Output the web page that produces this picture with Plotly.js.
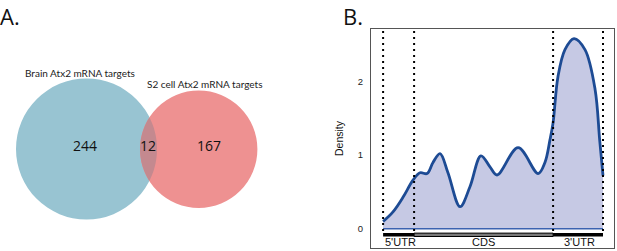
<!DOCTYPE html>
<html><head><meta charset="utf-8">
<script src="https://cdn.plot.ly/plotly-3.0.1.min.js"></script>
<style>html,body{margin:0;padding:0;background:#fff;}#chart{width:617px;height:251px;}</style>
</head><body><div id="chart"></div>
<script>
// Panel A: Venn data
const vennSetLabels = ["Brain Atx2 mRNA targets", "S2 cell Atx2 mRNA targets"];
const vennCounts = [244, 12, 167]; // brain only, both, S2 only

// Panel B: density along transcript (0 = 5' end, 1 = 3' end)
const position = [0, 0.045, 0.091, 0.136, 0.168, 0.2, 0.227, 0.259, 0.295, 0.35, 0.395, 0.445, 0.486, 0.518, 0.614, 0.705, 0.736, 0.759, 0.773, 0.795, 0.827, 0.868, 0.918, 0.964, 0.985, 1.0];
const density  = [0.1, 0.23, 0.43, 0.66, 0.76, 0.75, 0.9, 1.02, 0.76, 0.3, 0.57, 0.99, 0.84, 0.73, 1.10, 0.75, 0.9, 1.21, 1.44, 2.06, 2.43, 2.58, 2.43, 1.89, 1.2, 0.72];
const regionNames = ["5'UTR", "CDS", "3'UTR"];
const regionBounds = [0, 0.141, 0.773, 1.0];
const yTicks = [0, 1, 2];

// Venn geometry (in pixel-like units of a hidden axis)
const c1 = {x: 86.5, y: 149, r: 70.5};
const c2 = {x: 198.7, y: 149.2, r: 58.7};
const blue = "#98c4d2", red = "#ee9191", lens = "#c4898f";

function lensPath(a, b) {
  const d = b.x - a.x;
  const ax = (d*d + a.r*a.r - b.r*b.r) / (2*d);
  const h = Math.sqrt(a.r*a.r - ax*ax);
  const ix = a.x + ax, yTop = a.y - h, yBot = a.y + h;
  const pts = [];
  const t1 = Math.atan2(yTop - a.y, ix - a.x), t2 = Math.atan2(yBot - a.y, ix - a.x);
  for (let i = 0; i <= 40; i++) { const t = t1 + (t2 - t1) * i / 40; pts.push([a.x + a.r*Math.cos(t), a.y + a.r*Math.sin(t)]); }
  const s1 = Math.atan2(yBot - b.y, ix - b.x), s2 = Math.atan2(yTop - b.y, ix - b.x);
  let u1 = s1 < 0 ? s1 + 2*Math.PI : s1, u2 = s2 < 0 ? s2 + 2*Math.PI : s2;
  for (let i = 0; i <= 40; i++) { const t = u1 + (u2 - u1) * i / 40; pts.push([b.x + b.r*Math.cos(t), b.y + b.r*Math.sin(t)]); }
  return "M" + pts.map(p => p[0].toFixed(2) + "," + p[1].toFixed(2)).join("L") + "Z";
}

const traces = [
  {x: position, y: density, type: "scatter", mode: "lines",
   line: {shape: "spline", smoothing: 1, color: "#1d4b94", width: 2.8},
   fill: "tozeroy", fillcolor: "#c6c9e4", hoverinfo: "skip", xaxis: "x", yaxis: "y", showlegend: false},
  {x: [regionBounds[0], regionBounds[3]], y: [0, 0], type: "scatter", mode: "lines",
   line: {color: "#3b62b0", width: 1.5}, xaxis: "x", yaxis: "y", showlegend: false, hoverinfo: "skip"},
  {x: [0], y: [0], type: "scatter", mode: "markers", marker: {opacity: 0}, xaxis: "x2", yaxis: "y2", showlegend: false, hoverinfo: "skip"}
];

const shapes = [];
shapes.push({type: "circle", xref: "x2", yref: "y2", x0: c1.x - c1.r, x1: c1.x + c1.r, y0: c1.y - c1.r, y1: c1.y + c1.r, fillcolor: blue, line: {width: 0}, layer: "above"});
shapes.push({type: "circle", xref: "x2", yref: "y2", x0: c2.x - c2.r, x1: c2.x + c2.r, y0: c2.y - c2.r, y1: c2.y + c2.r, fillcolor: red, line: {width: 0}, layer: "above"});
shapes.push({type: "path", xref: "x2", yref: "y2", path: lensPath(c1, c2), fillcolor: lens, line: {width: 0}, layer: "above"});
regionBounds.forEach(b => shapes.push({type: "line", xref: "x", yref: "y", x0: b, x1: b, y0: -0.03, y1: 2.72, line: {color: "#000", width: 2, dash: "2px,4px"}, layer: "above"}));
shapes.push({type: "line", xref: "x", yref: "y", x0: regionBounds[0], x1: regionBounds[3], y0: -0.081, y1: -0.081, line: {color: "#000", width: 3.5}, layer: "above"});
shapes.push({type: "rect", xref: "x", yref: "y", x0: regionBounds[1], x1: regionBounds[2], y0: -0.104, y1: -0.058, fillcolor: "#7a7a7a", line: {color: "#000", width: 1}, layer: "above"});

const annotations = [
  {text: "A.", xref: "paper", yref: "paper", x: 0.0, y: 1.0, xanchor: "left", yanchor: "top", showarrow: false, borderpad: 0, font: {family: "Open Sans", size: 22, color: "#111"}, xshift: -1},
  {text: "B.", xref: "paper", yref: "paper", x: 342/617, y: 1.0, xanchor: "left", yanchor: "top", showarrow: false, borderpad: 0, font: {family: "Open Sans", size: 22, color: "#111"}},
  {text: vennSetLabels[0], xref: "x2", yref: "y2", x: 80, y: 73, showarrow: false, font: {family: "Lato", size: 10, color: "#222"}},
  {text: vennSetLabels[1], xref: "x2", yref: "y2", x: 204, y: 84, showarrow: false, font: {family: "Lato", size: 10, color: "#222"}},
  {text: String(vennCounts[0]), xref: "x2", yref: "y2", x: 84.5, y: 145, showarrow: false, font: {family: "Open Sans", size: 14, color: "#111"}},
  {text: String(vennCounts[1]), xref: "x2", yref: "y2", x: 148, y: 145, showarrow: false, font: {family: "Open Sans", size: 14, color: "#111"}},
  {text: String(vennCounts[2]), xref: "x2", yref: "y2", x: 208.5, y: 145, showarrow: false, font: {family: "Open Sans", size: 14, color: "#111"}}
];
regionNames.forEach((n, i) => annotations.push({
  text: n, xref: "x", yref: "y", x: (regionBounds[i] + regionBounds[i+1]) / 2 + (i === 0 ? 0.01 : (i === 2 ? 0.005 : 0)), y: -0.175,
  showarrow: false, font: {family: "Liberation Sans", size: 11, color: "#111"}
}));

const layout = {
  width: 617, height: 251,
  margin: {l: 0, r: 0, t: 0, b: 0},
  paper_bgcolor: "#fff", plot_bgcolor: "rgba(0,0,0,0)",
  showlegend: false,
  xaxis: {domain: [371/617, 614/617], range: [-0.055, 1.05], showgrid: false, zeroline: false, showticklabels: false, ticks: "",
          showline: true, mirror: true, linecolor: "#555", linewidth: 1},
  yaxis: {domain: [1 - 248/251, 1 - 29/251], range: [-0.26, 2.71], showgrid: false, zeroline: false,
          tickvals: yTicks, ticktext: yTicks.map(String), ticks: "", ticklen: 0, ticklabelstandoff: 5,
          tickfont: {family: "Liberation Sans", size: 9.5, color: "#222"},
          showline: true, mirror: true, linecolor: "#555", linewidth: 1,
          title: {text: "Density", font: {family: "Liberation Sans", size: 10.5, color: "#111"}, standoff: 12}},
  xaxis2: {domain: [0, 310/617], range: [0, 310], visible: false, anchor: "y2"},
  yaxis2: {domain: [0, 1], range: [251, 0], visible: false, anchor: "x2"},
  shapes: shapes,
  annotations: annotations,
  font: {family: "Liberation Sans"}
};

Plotly.newPlot("chart", traces, layout, {staticPlot: true, displayModeBar: false});
</script>
</body></html>
